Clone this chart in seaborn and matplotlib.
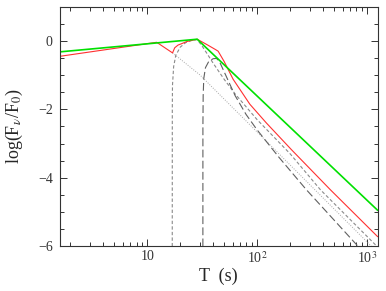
import numpy as np
import pandas as pd
import matplotlib
matplotlib.use("Agg")
import matplotlib.pyplot as plt
import seaborn as sns
from matplotlib.ticker import FixedLocator, NullFormatter

# ------------------------------
# data (T in s, log F)
# ------------------------------
green_t = [1.6, 28.5, 1250]
green_f = [-0.32, 0.05, -4.95]

red_t = [1.6, 12.2, 17.0, 17.8, 19.1, 20.6, 22.8, 28.5, 35.5, 41.7, 44.2,
         45.7, 50.1, 60.5, 85.9, 121.6, 205.6, 464.5, 1250]
red_f = [-0.45, -0.04, -0.35, -0.20, -0.12, -0.08, -0.02, 0.05, -0.12, -0.25, -0.30,
         -0.38, -0.60, -1.12, -1.85, -2.40, -3.18, -4.35, -5.72]

dot_t = [17.0, 30.1, 100, 1096]
dot_f = [-0.35, -0.99, -2.66, -6.0]

sdash_t = [16.9, 16.92, 16.98, 17.4, 18.2, 20.0, 22.4, 25.1, 28.5, 31.6, 35.5,
           39.8, 50.1, 63.1, 100, 200, 377, 1230]
sdash_f = [-6.0, -2.0, -1.3, -0.75, -0.42, -0.18, -0.05, 0.01, 0.04, -0.15, -0.40,
           -0.65, -1.12, -1.55, -2.3, -3.3, -4.35, -6.0]

ldash_t = [32.1, 32.12, 32.3, 32.7, 33.9, 36.3, 39.8, 42.7, 45.7, 50.1, 56.2,
           63.1, 79.4, 100, 158, 281, 828]
ldash_f = [-6.0, -2.5, -1.6, -1.1, -0.78, -0.6, -0.52, -0.51, -0.62, -0.9, -1.25,
           -1.6, -2.15, -2.6, -3.4, -4.35, -6.0]

xticks = [10, 100, 1000]
xtick_labels = ["10", "10$^2$", "10$^3$"]
yticks = [-6, -4, -2, 0]
ytick_labels = ["\u22126", "\u22124", "\u22122", "0"]

# ------------------------------
# style
# ------------------------------
sns.set_style("ticks")
plt.rcParams["font.family"] = ["Liberation Serif", "DejaVu Serif"]
plt.rcParams["mathtext.fontset"] = "stix"

fig = plt.figure(figsize=(3.86, 2.91), dpi=100)
ax = fig.add_axes([0.1547, 0.1536, 0.8238, 0.8234])

def draw(t, f, **kw):
    d = pd.DataFrame({"T": t, "F": f})
    sns.lineplot(data=d, x="T", y="F", sort=False, estimator=None, ax=ax, **kw)

draw(dot_t, dot_f, color="#a8a8a8", lw=0.7, linestyle=(0, (1, 1.5)))
draw(sdash_t, sdash_f, color="#8a8a8a", lw=0.8, linestyle=(0, (3, 2)))
draw(ldash_t, ldash_f, color="#606060", lw=0.8, linestyle=(0, (7, 3)))
draw(red_t, red_f, color="#ff3030", lw=0.8)
draw(green_t, green_f, color="#00e000", lw=1.2)

ax.set_xscale("log")
ax.set_xlim(1.6, 1250)
ax.set_ylim(-6, 1)

ax.xaxis.set_major_locator(FixedLocator(xticks))
ax.set_xticklabels(xtick_labels)
minor = [m * 10 ** e for e in range(0, 4) for m in range(2, 10)]
ax.xaxis.set_minor_locator(FixedLocator(minor))
ax.xaxis.set_minor_formatter(NullFormatter())

ax.set_yticks(yticks)
ax.set_yticklabels(ytick_labels)
ax.yaxis.set_minor_locator(FixedLocator(np.arange(-6, 1.01, 0.5)))

ax.tick_params(which="both", direction="in", top=True, right=True,
               labelsize=10, width=0.7, colors="#333333")
ax.tick_params(which="major", length=5, pad=3)
ax.tick_params(which="minor", length=2.8)
ax.tick_params(axis="y", which="major", pad=5)
for s in ax.spines.values():
    s.set_linewidth(0.8)
    s.set_color("#333333")

ax.set_xlabel("T  (s)", fontsize=13, labelpad=1)
ax.set_ylabel("log(F$_\\nu$/F$_0$)", fontsize=13, labelpad=9)

fig.savefig("out.png", dpi=100)
